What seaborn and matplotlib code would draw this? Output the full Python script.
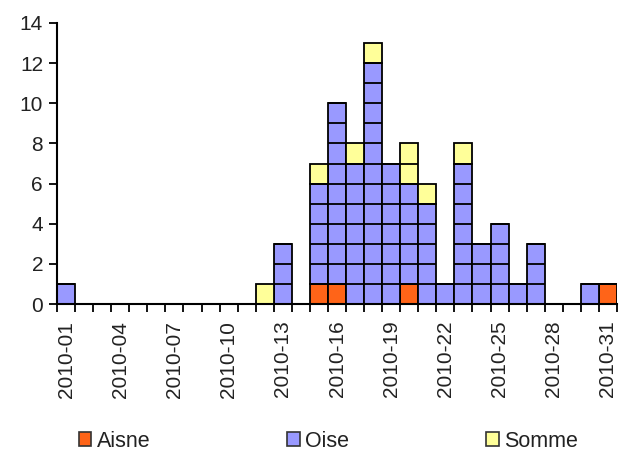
import numpy as np
import pandas as pd
import matplotlib
matplotlib.use("Agg")
import matplotlib.pyplot as plt
from matplotlib.patches import Patch
import seaborn as sns

# weekly case counts per department, weeks 2010-01 .. 2010-31
weeks = list(range(1, 32))
aisne = [0, 0, 0, 0, 0, 0, 0, 0, 0, 0, 0, 0, 0, 0, 1, 1, 0, 0, 0, 1, 0, 0, 0, 0, 0, 0, 0, 0, 0, 0, 1]
oise = [1, 0, 0, 0, 0, 0, 0, 0, 0, 0, 0, 0, 3, 0, 5, 9, 7, 12, 7, 5, 5, 1, 7, 3, 4, 1, 3, 0, 0, 1, 0]
somme = [0, 0, 0, 0, 0, 0, 0, 0, 0, 0, 0, 1, 0, 0, 1, 0, 1, 1, 0, 2, 1, 0, 1, 0, 0, 0, 0, 0, 0, 0, 0]
regions = ["Aisne", "Oise", "Somme"]
colors = {"Aisne": "#FF6418", "Oise": "#9999FF", "Somme": "#FFFF99"}
tick_weeks = [1, 4, 7, 10, 13, 16, 19, 22, 25, 28, 31]
tick_labels = [f"2010-{w:02d}" for w in tick_weeks]

df = pd.DataFrame({"week": weeks * 3,
                   "region": ["Aisne"] * 31 + ["Oise"] * 31 + ["Somme"] * 31,
                   "cases": aisne + oise + somme})

sns.set_style("white")
plt.rcParams["font.family"] = ["Liberation Sans", "DejaVu Sans"]

fig = plt.figure(figsize=(6.39, 4.55), dpi=100)
ax = fig.add_axes([57 / 639, 1 - 304 / 455, 560 / 639, 281 / 455])

sns.histplot(data=df, x="week", hue="region", weights="cases",
             hue_order=regions[::-1], palette=colors, multiple="stack",
             discrete=True, shrink=1, alpha=1, edgecolor="black",
             linewidth=1.3, legend=False, ax=ax)

# unit cell divisions
totals = np.array(aisne) + np.array(oise) + np.array(somme)
for w, t in zip(weeks, totals):
    if t > 1:
        ax.hlines(np.arange(1, t), w - 0.5, w + 0.5, colors="black", linewidth=1.3)

ax.set_xlim(0.5, 31.5)
ax.set_ylim(0, 14)
ax.set_yticks(range(0, 15, 2))
ax.set_xticks(tick_weeks)
ax.set_xticklabels(tick_labels, rotation=90, fontsize=15, color="#222222")
ax.set_xticks(np.arange(0.5, 32, 1), minor=True)
ax.tick_params(axis="x", which="major", length=0, pad=12)
ax.tick_params(axis="x", which="minor", length=6, width=1.3, color="black", direction="out", bottom=True)
ax.tick_params(axis="y", length=6, width=1.3, color="black", direction="out", left=True,
               labelsize=15, labelcolor="#222222", pad=4)
ax.set_xlabel("")
ax.set_ylabel("")
for s in ["top", "right"]:
    ax.spines[s].set_visible(False)
for s in ["left", "bottom"]:
    ax.spines[s].set_color("black")
    ax.spines[s].set_linewidth(1.5)

handles = [Patch(facecolor=colors[r], edgecolor="#333333", linewidth=1.2) for r in regions]
fig.legend(handles, regions, loc="center", bbox_to_anchor=(0.514, 0.03), ncol=3,
           frameon=False, fontsize=15.5, handlelength=0.6, handleheight=0.6,
           handletextpad=0.25, columnspacing=6.35, labelcolor="#222222")

fig.savefig("out.png", dpi=100, facecolor="white")
